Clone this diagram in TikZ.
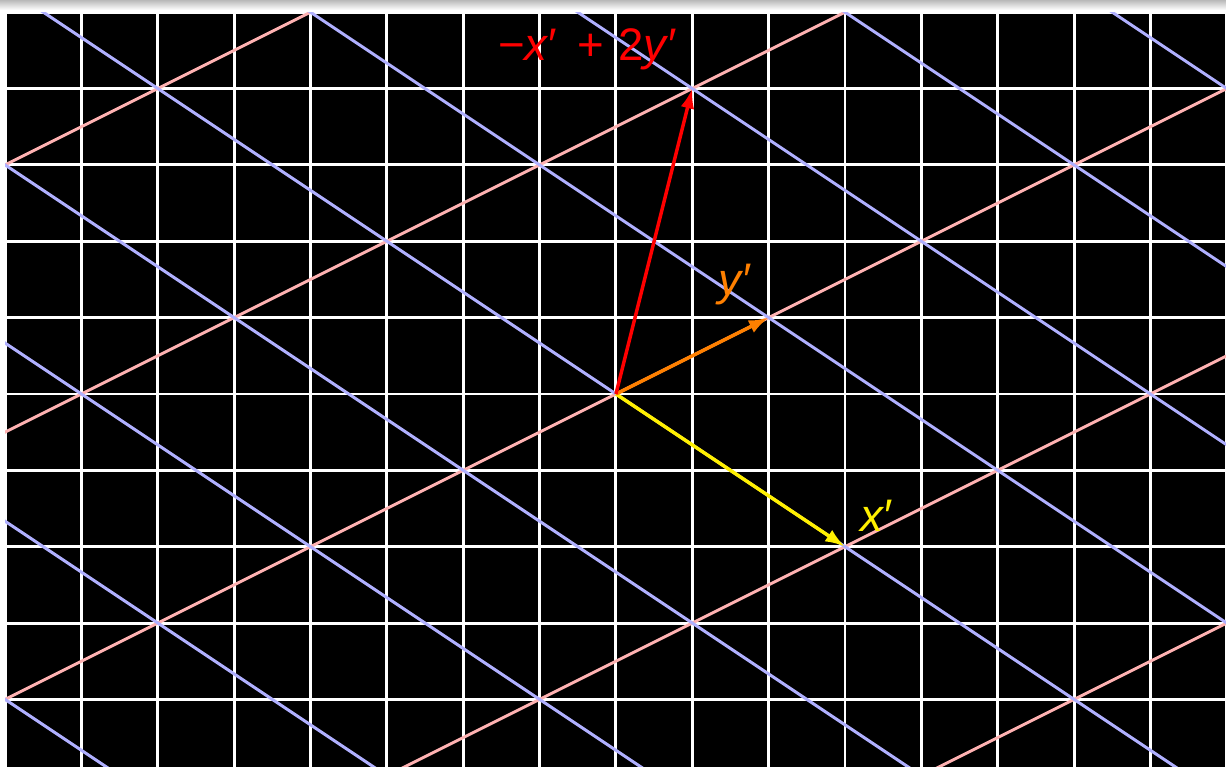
\documentclass[tikz,border=0pt]{standalone}
\usepackage{fontspec}
\setmainfont{Liberation Sans}
\usetikzlibrary{arrows.meta}
\definecolor{latpink}{RGB}{255,178,178}
\definecolor{latblue}{RGB}{176,176,255}
\definecolor{vecorange}{RGB}{255,128,0}
\definecolor{vecyellow}{RGB}{255,240,0}
\tikzset{
  gridline/.style={white,line width=1.1pt},
  pinkline/.style={latpink,line width=1.1pt},
  blueline/.style={latblue,line width=1.1pt},
  vec/.style={line width=1.3pt,-{Latex[length=2.6mm,width=1.8mm]}},
  veclabel/.style={font=\fontsize{17}{20}\selectfont,inner sep=0pt}
}
\begin{document}
\begin{tikzpicture}
    \useasboundingbox (-8.067,-4.885) rectangle (7.99,5.16);
    % shadow strip on top
    \shade[top color=gray!55,bottom color=white] (-8.067,5.03) rectangle (7.99,5.16);
    % black plane with square grid
    \begin{scope}
      \clip (-8,-4.885) rectangle (7.99,5.0);
      \fill[black] (-8,-4.885) rectangle (7.99,5.0);
      \foreach \i in {-8,...,8}
        {\draw[gridline] (\i,-5) -- (\i,5);}
      \foreach \j in {-4,...,5}
        {\draw[gridline] (-8,\j) -- (8,\j);}
      % lattice lines along y' (x-2y=7n) and along x' (2x+3y=7m)
      \foreach \n in {-3,...,3}
        {\draw[pinkline] (-9,{(-9-7*\n)/2}) -- (9,{(9-7*\n)/2});}
      \foreach \m in {-6,...,6}
        {\draw[blueline] (-9,{(7*\m+18)/3}) -- (9,{(7*\m-18)/3});}
    \end{scope}
    % basis vectors
    \coordinate (O) at (0,0);
    \coordinate (X) at (3,-2);
    \coordinate (Y) at (2,1);
    \coordinate (S) at (1,4);
    \draw[vec,vecyellow] (O) -- (X);
    \draw[vec,vecorange] (O) -- (Y);
    \draw[vec,red] (O) -- (S);
    \node[veclabel,text=vecyellow] (lblx) at (3.42,-1.60) {\textit{x}′};
    \node[veclabel,text=vecorange] (lbly) at (1.56,1.43) {\textit{y}′};
    \node[veclabel,text=red] (lblsum) at (-0.37,4.52) {−\textit{x}′\hspace{0.45em}+\hspace{0.3em}2\textit{y}′};
  \end{tikzpicture}
\end{document}
